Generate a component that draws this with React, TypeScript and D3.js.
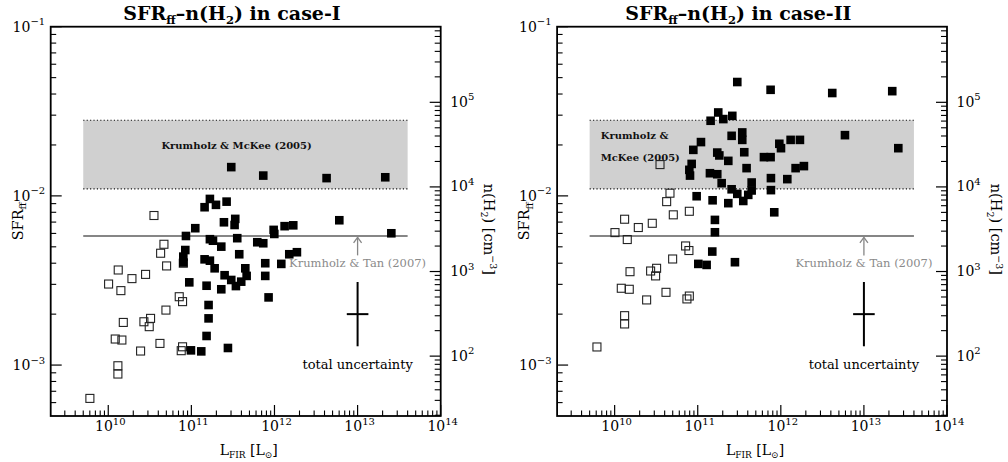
import React from "react";
import * as d3 from "d3";

// ---------- data (log10 values) ----------
// Case-I : open squares (normal galaxies)
const logLOpenI = [9.779, 10.116, 10.116, 10.084, 10.164, 10.181, 10.389, 10.429, 10.509, 10.493, 10.622, 10.878, 10.894, 10.694, 10.854, 10.894, 10.004, 10.12, 10.152, 10.285, 10.449, 10.63, 10.67, 10.702, 10.55, 10.903];
const logSfrOpenI = [-3.197, -3.004, -3.053, -2.846, -2.852, -2.748, -2.917, -2.744, -2.724, -2.773, -2.872, -2.915, -2.892, -2.675, -2.596, -2.625, -2.521, -2.438, -2.56, -2.489, -2.464, -2.339, -2.286, -2.414, -2.116, -2.398];
// Case-I : filled squares ((U)LIRGs)
const logLFillI = [11.48, 11.865, 12.627, 13.333, 11.223, 11.159, 11.296, 11.424, 11.392, 11.528, 11.52, 11.047, 10.935, 11.223, 11.552, 11.36, 10.927, 10.903, 10.903, 11.159, 11.223, 11.28, 11.576, 11.649, 11.665, 11.4, 10.975, 11.183, 11.36, 11.48, 11.536, 11.6, 11.207, 11.207, 11.183, 10.995, 11.119, 11.44, 11.793, 11.865, 11.889, 11.889, 11.929, 11.99, 11.998, 12.122, 12.226, 12.178, 12.27, 12.082, 12.78, 13.406, 11.26];
const logSfrFillI = [-1.83, -1.88, -1.895, -1.89, -2.018, -2.067, -2.053, -2.034, -2.156, -2.136, -2.172, -2.191, -2.237, -2.256, -2.25, -2.3, -2.32, -2.359, -2.394, -2.375, -2.383, -2.428, -2.345, -2.428, -2.473, -2.469, -2.511, -2.531, -2.552, -2.497, -2.533, -2.507, -2.645, -2.724, -2.828, -2.913, -2.919, -2.899, -2.274, -2.28, -2.398, -2.473, -2.6, -2.201, -2.225, -2.179, -2.174, -2.345, -2.333, -2.402, -2.144, -2.221, -2.265];

// Case-II : open squares
const logLOpenII = [9.787, 10.12, 10.12, 10.08, 10.176, 10.185, 10.385, 10.433, 10.505, 10.493, 10.618, 10.87, 10.899, 10.698, 10.854, 10.894, 10.004, 10.12, 10.152, 10.285, 10.453, 10.626, 10.666, 10.706, 10.546, 10.899];
const logSfrOpenII = [-2.893, -2.708, -2.757, -2.546, -2.552, -2.448, -2.615, -2.444, -2.428, -2.473, -2.57, -2.609, -2.592, -2.373, -2.296, -2.323, -2.217, -2.138, -2.258, -2.187, -2.162, -2.034, -1.984, -2.112, -1.815, -2.091];
// Case-II : filled squares
const logLFillII = [11.476, 11.877, 12.619, 13.341, 12.772, 13.414, 11.247, 11.155, 11.308, 11.416, 11.408, 11.536, 11.536, 11.039, 10.947, 11.235, 11.26, 11.56, 11.368, 10.927, 10.899, 10.907, 11.147, 11.235, 11.288, 11.588, 11.797, 11.877, 11.982, 12.002, 12.118, 12.23, 12.178, 12.278, 12.078, 11.881, 11.881, 11.649, 11.649, 11.408, 11.476, 11.608, 11.548, 10.987, 11.179, 11.368, 11.207, 11.207, 11.175, 11.007, 11.107, 11.448, 11.921];
const logSfrFillII = [-1.327, -1.373, -1.392, -1.381, -1.641, -1.718, -1.507, -1.556, -1.546, -1.527, -1.645, -1.625, -1.669, -1.682, -1.728, -1.744, -1.761, -1.742, -1.793, -1.811, -1.846, -1.88, -1.866, -1.872, -1.925, -1.836, -1.771, -1.771, -1.692, -1.718, -1.669, -1.669, -1.836, -1.824, -1.901, -1.895, -1.966, -1.921, -1.968, -1.961, -1.988, -1.994, -2.03, -2.002, -2.026, -2.043, -2.142, -2.215, -2.329, -2.402, -2.408, -2.392, -2.097];

// ---------- axes / annotation values ----------
const xTickPowers = [10, 11, 12, 13, 14];
const yTickPowers = [-3, -2, -1];
const nTickPowers = [2, 3, 4, 5];
const X_DOMAIN: [number, number] = [2.03e9, 1e14];
const Y_DOMAIN: [number, number] = [5e-4, 0.1];
const N_DOMAIN: [number, number] = [19.6, 7.83e5];
const mkBandSfr: [number, number] = [0.011, 0.028];
const modelRangeL: [number, number] = [5e9, 4e13];
const ktSfr = 0.0058;
const ktArrowTailSfr = 0.00445;
const errCenterL = 1e13;
const errCenterSfr = 0.002;
const errDexL = 0.13;
const errDexSfr = 0.19;

const FONT = "'DejaVu Serif', serif";
const TOP = 26.7;
const BOTTOM = 416;

function minorTicks(domain: [number, number], lo: number, hi: number) {
  const out: number[] = [];
  for (let k = lo; k <= hi; k++) {
    for (let m = 2; m <= 9; m++) {
      const v = m * Math.pow(10, k);
      if (v > domain[0] * 1.01 && v < domain[1] * 0.99) out.push(v);
    }
  }
  return out;
}

type PanelProps = {
  x0: number;
  x1: number;
  caseLabel: string;
  openL: number[];
  openS: number[];
  fillL: number[];
  fillS: number[];
  twoLineMK: boolean;
};

function Panel({ x0, x1, caseLabel, openL, openS, fillL, fillS, twoLineMK }: PanelProps) {
  const xS = d3.scaleLog().domain(X_DOMAIN).range([x0, x1]);
  const yS = d3.scaleLog().domain(Y_DOMAIN).range([BOTTOM, TOP]);
  const nS = d3.scaleLog().domain(N_DOMAIN).range([BOTTOM, TOP]);
  const fc = (x0 + x1) / 2;
  const xMinor = minorTicks(X_DOMAIN, 9, 13);
  const yMinor = minorTicks(Y_DOMAIN, -4, -2);
  const nMinor = minorTicks(N_DOMAIN, 1, 5);
  const bx0 = xS(modelRangeL[0]);
  const bx1 = xS(modelRangeL[1]);
  const byTop = yS(mkBandSfr[1]);
  const byBot = yS(mkBandSfr[0]);
  const ktY = yS(ktSfr);
  const ax = xS(errCenterL);
  const ex = xS(errCenterL);
  const ey = yS(errCenterSfr);
  const fsq = 8.6;
  const osq = 8;
  return (
    <g fontFamily={FONT}>
      {/* Krumholz & McKee band */}
      <rect x={bx0} y={byTop} width={bx1 - bx0} height={byBot - byTop} fill="#d0d0d0" />
      <line x1={bx0} x2={bx1} y1={byTop} y2={byTop} stroke="#111" strokeWidth={1.1} strokeDasharray="1.2,2.2" />
      <line x1={bx0} x2={bx1} y1={byBot} y2={byBot} stroke="#111" strokeWidth={1.1} strokeDasharray="1.2,2.2" />
      {twoLineMK ? (
        <g fontSize={10} fontWeight="bold" fill="#111">
          <text x={600.7 - 557.1 + x0} y={139}>Krumholz &amp;</text>
          <text x={600.7 - 557.1 + x0} y={161}>McKee (2005)</text>
        </g>
      ) : (
        <text x={xS(3.5e11)} y={149} fontSize={10} fontWeight="bold" textAnchor="middle" fill="#111">
          Krumholz &amp; McKee (2005)
        </text>
      )}

      {/* Krumholz & Tan line */}
      <line x1={bx0} x2={bx1} y1={ktY} y2={ktY} stroke="#868686" strokeWidth={2} />
      <line x1={ax} x2={ax} y1={yS(ktArrowTailSfr)} y2={ktY + 1.5} stroke="#868686" strokeWidth={1.3} />
      <path d={`M${ax - 4},${ktY + 7} L${ax},${ktY + 1.5} L${ax + 4},${ktY + 7}`} fill="none" stroke="#868686" strokeWidth={1.3} />
      <text x={ax} y={267} fontSize={11.5} textAnchor="middle" fill="#8a8a8a">
        Krumholz &amp; Tan (2007)
      </text>

      {/* total uncertainty */}
      <line x1={ex} x2={ex} y1={yS(errCenterSfr * Math.pow(10, errDexSfr))} y2={yS(errCenterSfr / Math.pow(10, errDexSfr))} stroke="#000" strokeWidth={2} />
      <line x1={xS(errCenterL / Math.pow(10, errDexL))} x2={xS(errCenterL * Math.pow(10, errDexL))} y1={ey} y2={ey} stroke="#000" strokeWidth={2} />
      <text x={ex} y={368.5} fontSize={13} textAnchor="middle" fill="#000">
        total uncertainty
      </text>

      {/* open squares */}
      {openL.map((l, i) => (
        <rect
          key={"o" + i}
          x={xS(Math.pow(10, l)) - osq / 2}
          y={yS(Math.pow(10, openS[i])) - osq / 2}
          width={osq}
          height={osq}
          fill="none"
          stroke="#222"
          strokeWidth={1.1}
        />
      ))}
      {/* filled squares */}
      {fillL.map((l, i) => (
        <rect
          key={"f" + i}
          x={xS(Math.pow(10, l)) - fsq / 2}
          y={yS(Math.pow(10, fillS[i])) - fsq / 2}
          width={fsq}
          height={fsq}
          fill="#000"
        />
      ))}

      {/* frame */}
      <rect x={x0} y={TOP} width={x1 - x0} height={BOTTOM - TOP} fill="none" stroke="#000" strokeWidth={1.8} />

      {/* x ticks */}
      {xTickPowers.map((p) => (
        <line key={"xM" + p} x1={xS(Math.pow(10, p))} x2={xS(Math.pow(10, p))} y1={BOTTOM} y2={BOTTOM - 11} stroke="#000" strokeWidth={1.2} />
      ))}
      {xMinor.map((v, i) => (
        <line key={"xm" + i} x1={xS(v)} x2={xS(v)} y1={BOTTOM} y2={BOTTOM - 5.5} stroke="#000" strokeWidth={1.1} />
      ))}
      {/* left y ticks */}
      {yTickPowers.map((p) => (
        <line key={"yM" + p} x1={x0} x2={x0 + 11} y1={yS(Math.pow(10, p))} y2={yS(Math.pow(10, p))} stroke="#000" strokeWidth={1.2} />
      ))}
      {yMinor.map((v, i) => (
        <line key={"ym" + i} x1={x0} x2={x0 + 5.5} y1={yS(v)} y2={yS(v)} stroke="#000" strokeWidth={1.1} />
      ))}
      {/* right n ticks */}
      {nTickPowers.map((p) => (
        <line key={"nM" + p} x1={x1} x2={x1 - 11} y1={nS(Math.pow(10, p))} y2={nS(Math.pow(10, p))} stroke="#000" strokeWidth={1.2} />
      ))}
      {nMinor.map((v, i) => (
        <line key={"nm" + i} x1={x1} x2={x1 - 6} y1={nS(v)} y2={nS(v)} stroke="#000" strokeWidth={1.1} />
      ))}

      {/* tick labels */}
      {xTickPowers.map((p) => (
        <text key={"xl" + p} x={xS(Math.pow(10, p)) + 2} y={431} fontSize={14} textAnchor="middle" fill="#000">
          10<tspan dy={-6.5} fontSize={10}>{p}</tspan>
        </text>
      ))}
      {yTickPowers.map((p) => (
        <text key={"yl" + p} x={x0 - 5.5} y={yS(Math.pow(10, p)) + 5} fontSize={14} textAnchor="end" fill="#000">
          10<tspan dy={-6.5} fontSize={10}>{"\u2212" + Math.abs(p)}</tspan>
        </text>
      ))}
      {nTickPowers.map((p) => (
        <text key={"nl" + p} x={x1 + 9.5} y={nS(Math.pow(10, p)) + 4.5} fontSize={14} fill="#000">
          10<tspan dy={-6.5} fontSize={10}>{p}</tspan>
        </text>
      ))}

      {/* axis titles */}
      <text transform={`translate(${x0 - 28},${(TOP + BOTTOM) / 2}) rotate(-90)`} textAnchor="middle" fontSize={14.5} fill="#000">
        SFR<tspan dy={3.5} fontSize={10}>ff</tspan>
      </text>
      <text transform={`translate(${x1 + 43.5},${(TOP + BOTTOM) / 2 + 8}) rotate(90)`} textAnchor="middle" fontSize={14.5} fill="#000">
        n(H<tspan dy={3.5} fontSize={9.5}>2</tspan>
        <tspan dy={-3.5}>) [cm</tspan>
        <tspan dy={-5.5} fontSize={9.5}>{"\u22123"}</tspan>
        <tspan dy={5.5}>]</tspan>
      </text>
      <text x={fc + 3} y={455} textAnchor="middle" fontSize={14} fill="#000">
        L<tspan dy={3} fontSize={9}>FIR</tspan>
        <tspan dy={-3}> [L</tspan>
        <tspan dy={3} fontSize={9}>{"\u2299"}</tspan>
        <tspan dy={-3}>]</tspan>
      </text>

      {/* title */}
      <text x={fc - 13.7} y={20} textAnchor="middle" fontSize={19} fontWeight="bold" fill="#000">
        SFR<tspan dy={4} fontSize={11.5}>ff</tspan>
        <tspan dy={-4}>{"\u2013n(H"}</tspan>
        <tspan dy={4} fontSize={11.5}>2</tspan>
        <tspan dy={-4}>{") in case-" + caseLabel}</tspan>
      </text>
    </g>
  );
}

export default function App() {
  return (
    <svg
      width={1008}
      height={462}
      viewBox="0 0 1008 462"
      style={{ position: "absolute", left: 0, top: 0, background: "#fff" }}
    >
      <rect x={0} y={0} width={1008} height={462} fill="#fff" />
      <Panel x0={50.7} x1={440.7} caseLabel="I" openL={logLOpenI} openS={logSfrOpenI} fillL={logLFillI} fillS={logSfrFillI} twoLineMK={false} />
      <Panel x0={557.1} x1={947} caseLabel="II" openL={logLOpenII} openS={logSfrOpenII} fillL={logLFillII} fillS={logSfrFillII} twoLineMK={true} />
    </svg>
  );
}
